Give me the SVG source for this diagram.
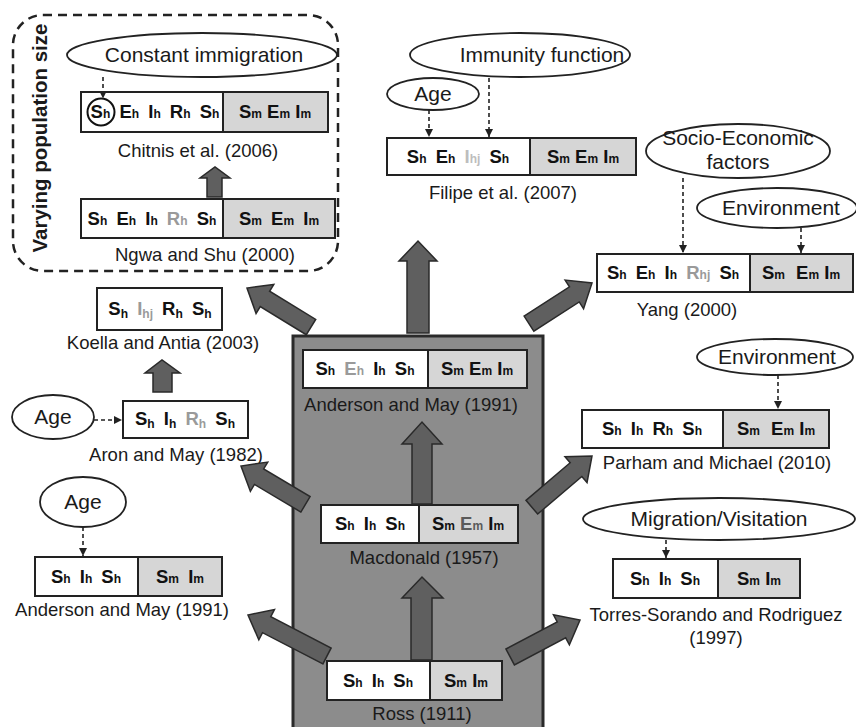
<svg xmlns="http://www.w3.org/2000/svg" width="856" height="727" viewBox="0 0 856 727">
<style>
.bx{fill:#fff;stroke:#222;stroke-width:2}
.bg{fill:#d6d6d6;stroke:#222;stroke-width:2}
.bt{font-family:"Liberation Sans",Arial,sans-serif;font-weight:bold;font-size:18.5px;fill:#111;text-anchor:middle;word-spacing:4px}
.br{word-spacing:0px}
.s{font-size:12px}
.g{fill:#9a9a9a}
.g2{fill:#5a5a5a}
.lb{font-family:"Liberation Sans",Arial,sans-serif;font-size:18.5px;fill:#1a1a1a;text-anchor:middle}
.el{fill:#fff;stroke:#222;stroke-width:1.8}
.et{font-family:"Liberation Sans",Arial,sans-serif;font-size:21px;fill:#1a1a1a;text-anchor:middle}
.dc{fill:none;stroke:#222;stroke-width:1.6;stroke-dasharray:4 3;marker-end:url(#ah)}
.ba{fill:#5f5f5f;stroke:#2a2a2a;stroke-width:1.5;stroke-linejoin:miter}
</style>
<defs>
<marker id="ah" viewBox="0 0 10 10" refX="10" refY="5" markerWidth="8" markerHeight="8" markerUnits="userSpaceOnUse" orient="auto">
<path d="M0,0 L10,5 L0,10 z" fill="#222"/>
</marker>
<polygon id="da" points="-75,-9 -21,-9 -21,-17 0,0 -21,17 -21,9 -75,9"/>
</defs>
<rect x="0" y="0" width="856" height="727" fill="#fff"/>

<g id="group-varying">
<rect x="13" y="15" width="325" height="256" rx="30" ry="30" fill="none" stroke="#222" stroke-width="2.5" stroke-dasharray="9 6"/>
<text transform="translate(47,138) rotate(-90)" font-family="Liberation Sans,Arial,sans-serif" font-weight="bold" font-size="20.5" fill="#1a1a1a" text-anchor="middle">Varying population size</text>
</g>

<g id="main-box">
<rect x="293" y="336" width="250" height="410" fill="#8c8c8c" stroke="#2a2a2a" stroke-width="3"/>
</g>

<g id="constant-immigration">
<ellipse class="el" cx="202" cy="55" rx="135" ry="22"/>
<text class="et" x="204" y="62">Constant immigration</text>
</g>

<g id="chitnis">
<rect class="bx" x="81" y="92" width="142" height="40"/>
<rect class="bg" x="223" y="92" width="105" height="40"/>
<text class="bt" x="155" y="118">S<tspan class="s">h</tspan> E<tspan class="s">h</tspan> I<tspan class="s">h</tspan> R<tspan class="s">h</tspan> S<tspan class="s">h</tspan></text>
<circle cx="101" cy="112" r="13.5" fill="none" stroke="#111" stroke-width="2"/>
<text class="bt br" x="275" y="118">S<tspan class="s">m</tspan> E<tspan class="s">m</tspan> I<tspan class="s">m</tspan></text>
<text class="lb" x="198" y="157">Chitnis et al. (2006)</text>
</g>

<g id="ngwa">
<rect class="bx" x="81" y="199" width="142" height="39"/>
<rect class="bg" x="223" y="199" width="112" height="39"/>
<text class="bt" x="152" y="225">S<tspan class="s">h</tspan> E<tspan class="s">h</tspan> I<tspan class="s">h</tspan> <tspan class="g">R<tspan class="s">h</tspan></tspan> S<tspan class="s">h</tspan></text>
<text class="bt" x="279" y="225">S<tspan class="s">m</tspan> E<tspan class="s">m</tspan> I<tspan class="s">m</tspan></text>
<text class="lb" x="205" y="261">Ngwa and Shu (2000)</text>
</g>

<g id="immunity-function">
<ellipse class="el" cx="520" cy="55" rx="110" ry="22"/>
<text class="et" x="542" y="62">Immunity function</text>
</g>

<g id="age-filipe">
<ellipse class="el" cx="433" cy="94" rx="46" ry="16"/>
<text class="et" x="433" y="101">Age</text>
</g>

<g id="filipe">
<rect class="bx" x="387" y="138" width="143" height="37"/>
<rect class="bg" x="530" y="138" width="106" height="37"/>
<text class="bt" x="458" y="163">S<tspan class="s">h</tspan> E<tspan class="s">h</tspan> <tspan fill="#bdbdbd">I<tspan class="s">hj</tspan></tspan> S<tspan class="s">h</tspan></text>
<text class="bt br" x="583" y="163">S<tspan class="s">m</tspan> E<tspan class="s">m</tspan> I<tspan class="s">m</tspan></text>
<text class="lb" x="503" y="199">Filipe et al. (2007)</text>
</g>

<g id="socio-economic">
<ellipse class="el" cx="738" cy="151" rx="92" ry="27"/>
<text class="et" x="738" y="145">Socio-Economic</text>
<text class="et" x="738" y="169">factors</text>
</g>

<g id="environment-yang">
<ellipse class="el" cx="777" cy="208" rx="80" ry="20"/>
<text class="et" x="781" y="215">Environment</text>
</g>

<g id="yang">
<rect class="bx" x="597" y="254" width="153" height="38"/>
<rect class="bg" x="750" y="254" width="103" height="38"/>
<text class="bt" x="673" y="279">S<tspan class="s">h</tspan> E<tspan class="s">h</tspan> I<tspan class="s">h</tspan> <tspan class="g">R<tspan class="s">hj</tspan></tspan> S<tspan class="s">h</tspan></text>
<text class="bt br" x="801" y="279">S<tspan class="s">m</tspan> <tspan dx="6">E</tspan><tspan class="s">m</tspan> I<tspan class="s">m</tspan></text>
<text class="lb" x="687" y="316">Yang (2000)</text>
</g>

<g id="koella">
<rect class="bx" x="97" y="288" width="125" height="42"/>
<text class="bt" x="160" y="315">S<tspan class="s" dy="3">h</tspan> <tspan class="g" dy="-3">I<tspan class="s" dy="3">hj</tspan></tspan> <tspan dy="-3">R</tspan><tspan class="s" dy="3">h</tspan> <tspan dy="-3">S</tspan><tspan class="s" dy="3">h</tspan></text>
<text class="lb" x="163" y="349">Koella and Antia (2003)</text>
</g>

<g id="age-aron">
<ellipse class="el" cx="53" cy="417" rx="41" ry="22"/>
<text class="et" x="53" y="424">Age</text>
</g>

<g id="aron">
<rect class="bx" x="123" y="401" width="125" height="37"/>
<text class="bt" x="185" y="425">S<tspan class="s" dy="3">h</tspan> <tspan dy="-3">I</tspan><tspan class="s" dy="3">h</tspan> <tspan class="g" dy="-3">R<tspan class="s" dy="3">h</tspan></tspan> <tspan dy="-3">S</tspan><tspan class="s" dy="3">h</tspan></text>
<text class="lb" x="176" y="461">Aron and May (1982)</text>
</g>

<g id="age-anderson">
<ellipse class="el" cx="83" cy="502" rx="43" ry="25"/>
<text class="et" x="83" y="509">Age</text>
</g>

<g id="anderson-left">
<rect class="bx" x="35" y="557" width="103" height="39"/>
<rect class="bg" x="138" y="557" width="84" height="39"/>
<text class="bt" x="86" y="583">S<tspan class="s">h</tspan> I<tspan class="s">h</tspan> S<tspan class="s">h</tspan></text>
<text class="bt" x="180" y="583">S<tspan class="s">m</tspan> I<tspan class="s">m</tspan></text>
<text class="lb" x="122" y="616">Anderson and May (1991)</text>
</g>

<g id="anderson-main">
<rect class="bx" x="303" y="350" width="125" height="38"/>
<rect class="bg" x="428" y="350" width="99" height="38"/>
<text class="bt" x="365" y="375">S<tspan class="s">h</tspan> <tspan class="g">E<tspan class="s">h</tspan></tspan> I<tspan class="s">h</tspan> S<tspan class="s">h</tspan></text>
<text class="bt br" x="477" y="375">S<tspan class="s">m</tspan> E<tspan class="s">m</tspan> I<tspan class="s">m</tspan></text>
<text class="lb" x="411" y="411">Anderson and May (1991)</text>
</g>

<g id="macdonald">
<rect class="bx" x="321" y="505" width="98" height="38"/>
<rect class="bg" x="419" y="505" width="99" height="38"/>
<text class="bt" x="370" y="530">S<tspan class="s">h</tspan> I<tspan class="s">h</tspan> S<tspan class="s">h</tspan></text>
<text class="bt br" x="468" y="530">S<tspan class="s">m</tspan> <tspan class="g2">E<tspan class="s">m</tspan></tspan> I<tspan class="s">m</tspan></text>
<text class="lb" x="424" y="564">Macdonald (1957)</text>
</g>

<g id="ross">
<rect class="bx" x="327" y="661" width="103" height="39"/>
<rect class="bg" x="430" y="661" width="72" height="39"/>
<text class="bt" x="378" y="687">S<tspan class="s">h</tspan> I<tspan class="s">h</tspan> S<tspan class="s">h</tspan></text>
<text class="bt br" x="466" y="687">S<tspan class="s">m</tspan> I<tspan class="s">m</tspan></text>
<text class="lb" x="422" y="720">Ross (1911)</text>
</g>

<g id="environment-parham">
<ellipse class="el" cx="775" cy="357" rx="78" ry="18"/>
<text class="et" x="777" y="364">Environment</text>
</g>

<g id="parham">
<rect class="bx" x="582" y="410" width="141" height="38"/>
<rect class="bg" x="723" y="410" width="106" height="38"/>
<text class="bt" x="652" y="435">S<tspan class="s">h</tspan> I<tspan class="s">h</tspan> R<tspan class="s">h</tspan> S<tspan class="s">h</tspan></text>
<text class="bt br" x="776" y="435">S<tspan class="s">m</tspan> <tspan dx="6">E</tspan><tspan class="s">m</tspan> I<tspan class="s">m</tspan></text>
<text class="lb" x="717" y="469">Parham and Michael (2010)</text>
</g>

<g id="migration">
<ellipse class="el" cx="719" cy="519" rx="136" ry="21"/>
<text class="et" x="719" y="526">Migration/Visitation</text>
</g>

<g id="torres">
<rect class="bx" x="613" y="559" width="105" height="39"/>
<rect class="bg" x="718" y="559" width="82" height="39"/>
<text class="bt" x="665" y="585">S<tspan class="s">h</tspan> I<tspan class="s">h</tspan> S<tspan class="s">h</tspan></text>
<text class="bt br" x="759" y="585">S<tspan class="s">m</tspan> I<tspan class="s">m</tspan></text>
<text class="lb" x="716" y="621">Torres-Sorando and Rodriguez</text>
<text class="lb" x="716" y="644">(1997)</text>
</g>

<g id="connectors">
<path class="dc" d="M103,77 V98.5"/>
<path class="dc" d="M429,110 V137"/>
<path class="dc" d="M489,78 V137"/>
<path class="dc" d="M683,178 V253"/>
<path class="dc" d="M801,228 V253"/>
<path class="dc" d="M94,420 H122"/>
<path class="dc" d="M83,527 V556"/>
<path class="dc" d="M778,375 V409"/>
<path class="dc" d="M666,540 V558"/>
<polygon class="ba" points="407,333 407,261 399,261 418,241 437,261 429,261 429,333"/>
<polygon class="ba" points="207,197 207,178 200,178 215,167 230,178 222,178 222,197"/>
<polygon class="ba" points="153,392 153,373 145,373 162,360 180,373 172,373 172,392"/>
<polygon class="ba" points="412,504 412,444 402,444 422,422 442,444 432,444 432,504"/>
<polygon class="ba" points="411,660 411,598 402,598 422,577 443,598 432,598 432,660"/>
<use href="#da" class="ba" transform="translate(247,288) rotate(-148.6)"/>
<use href="#da" class="ba" transform="translate(241,466) rotate(-149.3)"/>
<polygon class="ba" transform="translate(248,615) rotate(-152.6)" points="-89,-9 -21,-9 -21,-17 0,0 -21,17 -21,9 -89,9"/>
<use href="#da" class="ba" transform="translate(592,283) rotate(-32.8)"/>
<polygon class="ba" transform="translate(592,456) rotate(-40.4)" points="-79,-9 -21,-9 -21,-17 0,0 -21,17 -21,9 -79,9"/>
<polygon class="ba" transform="translate(580,620) rotate(-27.9)" points="-79,-9 -21,-9 -21,-17 0,0 -21,17 -21,9 -79,9"/>
</g>
</svg>
